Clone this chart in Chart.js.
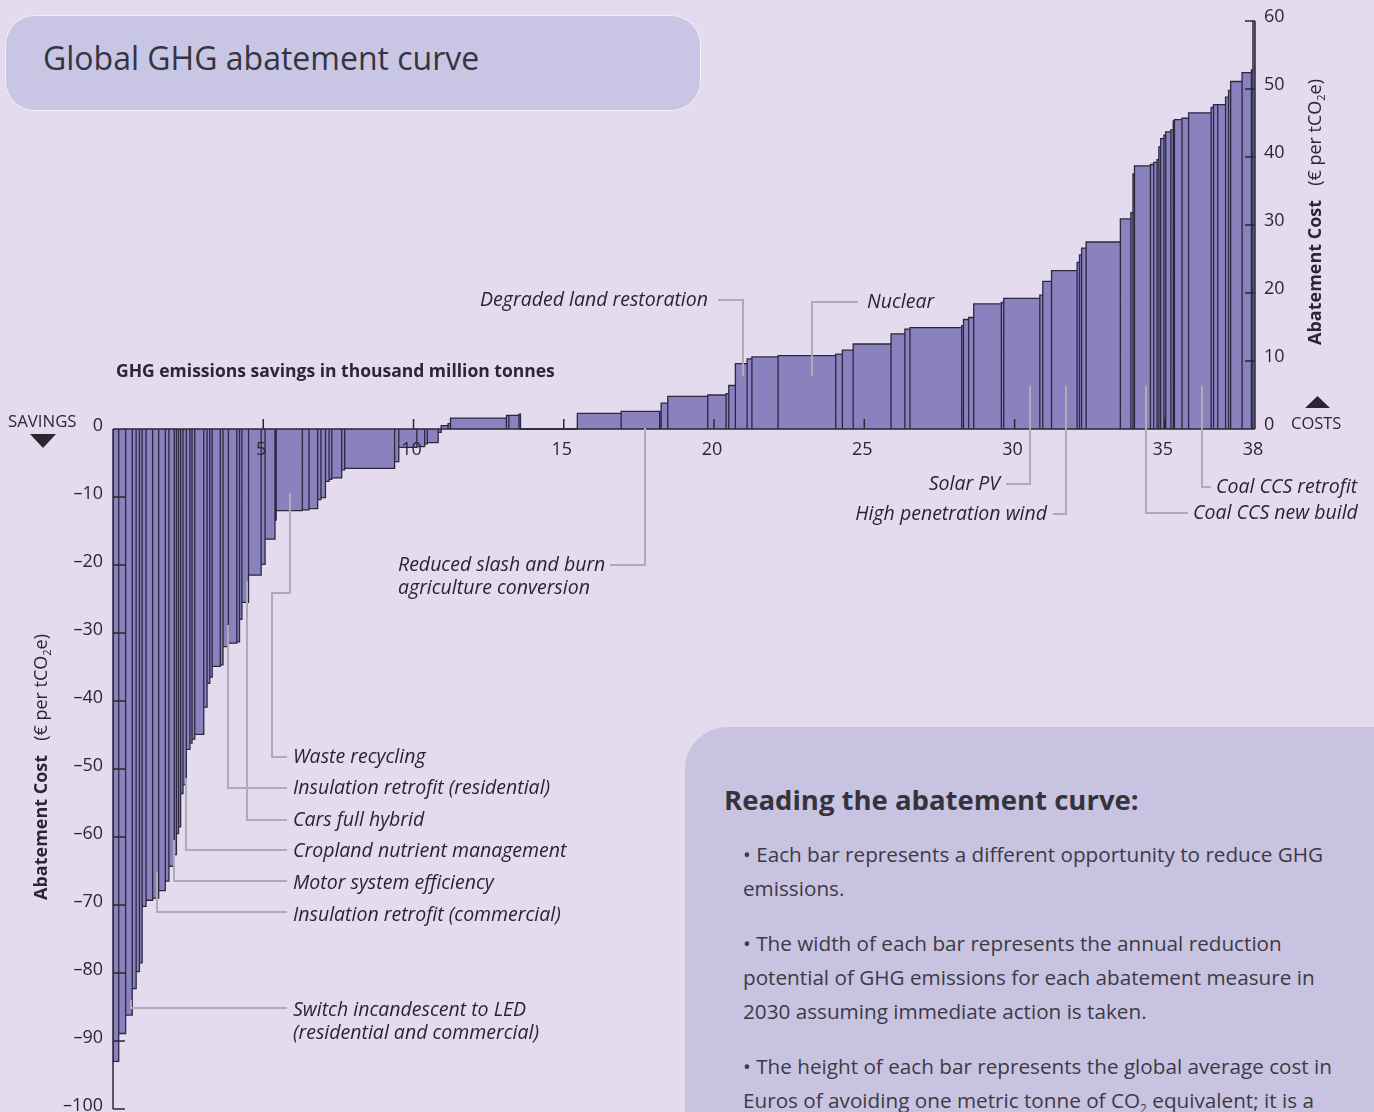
<!DOCTYPE html>
<html>
<head>
<meta charset="utf-8">
<script src="https://cdn.jsdelivr.net/npm/chart.js@4.4.1/dist/chart.umd.min.js"></script>
<style>
  body { margin: 0; background: #e4dcee; font-family: 'Open Sans', sans-serif; }
  #wrap { position: relative; width: 1374px; height: 1112px; overflow: hidden; }
  #chart { position: absolute; left: 0; top: 0; }
  .title-box { position: absolute; left: 5px; top: 15px; width: 696px; height: 96px; box-sizing: border-box;
    background: #c9c5e4; border: 1.5px solid #f2eff8; border-radius: 30px; }
  .title-box span { position: absolute; left: 37px; top: 20px; font-size: 32px; color: #363440; }
  .info-box { position: absolute; left: 685px; top: 727px; width: 740px; height: 440px;
    background: #c9c3e2; border-radius: 42px; color: #3c3a44; }
  .info-box h3 { position: absolute; left: 39px; top: 54px; margin: 0; font-size: 27.5px; line-height: 38px; font-weight: 700; color: #35333d; }
  .info-box .body { position: absolute; left: 58px; top: 110px; width: 660px; font-size: 20.7px; line-height: 34px; }
  .info-box p { margin: 0 0 21px 0; }
  .info-box sub { font-size: 12px; }
</style>
</head>
<body>
<div id="wrap">
  <div class="title-box"><span>Global GHG abatement curve</span></div>
  <div class="info-box">
    <h3>Reading the abatement curve:</h3>
    <div class="body">
      <p>• Each bar represents a different opportunity to reduce GHG<br>emissions.</p>
      <p>• The width of each bar represents the annual reduction<br>potential of GHG emissions for each abatement measure in<br>2030 assuming immediate action is taken.</p>
      <p>• The height of each bar represents the global average cost in<br>Euros of avoiding one metric tonne of CO<sub>2</sub> equivalent; it is a<br>weighted average across sub-opportunities and years.</p>
    </div>
  </div>
  <canvas id="chart" width="1374" height="1112"></canvas>
</div>
<script>
// abatement opportunities, left to right (width in Gt CO2e, cost in EUR per tCO2e)
const widths = [
  0.19, 0.23, 0.22, 0.13, 0.11, 0.09, 0.13, 0.22, 0.20, 0.22,
  0.12, 0.18, 0.07, 0.07, 0.07, 0.08, 0.11, 0.12, 0.07, 0.09,
  0.30, 0.11, 0.09, 0.08, 0.27, 0.09, 0.18, 0.28, 0.09, 0.08,
  0.22, 0.42, 0.13, 0.33, 0.04, 0.87, 0.22, 0.29, 0.11, 0.15,
  0.12, 0.09, 0.33, 0.10, 1.66, 0.14, 0.60, 0.26, 0.09, 0.36,
  0.10, 0.23, 0.08, 1.86, 0.08, 0.34, 0.05, 1.89, 1.46, 1.28,
  0.05, 0.22, 1.33, 0.61, 0.09, 0.22, 0.39, 0.16, 0.87, 1.92,
  0.22, 0.36, 1.26, 0.46, 0.17, 1.72, 0.06, 0.17, 0.17, 0.92,
  0.08, 1.20, 0.10, 0.29, 0.85, 0.08, 0.07, 0.15, 1.14, 0.35,
  0.07, 0.05, 0.53, 0.11, 0.11, 0.06, 0.06, 0.11, 0.06, 0.17,
  0.08, 0.04, 0.25, 0.22, 0.75, 0.08, 0.14, 0.26, 0.10, 0.07,
  0.38, 0.31, 0.05, 0.09
];
const costs = [
  -93, -88.9, -86.2, -82.3, -79.8, -78.5, -70.2, -69.3, -69.0, -67.9,
  -66.5, -64.3, -62.6, -59.5, -58.5, -53.6, -52.3, -47.1, -46.2, -45.6,
  -44.9, -40.9, -37.4, -36.5, -34.9, -34.7, -32.0, -31.5, -31.3, -28.0,
  -25.5, -21.5, -19.9, -16.2, -13.4, -12.0, -11.9, -11.7, -10.4, -10.1,
  -7.7, -7.4, -7.2, -6.0, -5.8, -4.8, -2.7, -2.6, -2.2, -2.0,
  -0.5, 0.5, 0.8, 1.6, 2.0, 2.0, 2.2, 0, 2.3, 2.6,
  2.5, 3.8, 4.8, 5.0, 5.2, 6.4, 9.6, 10.3, 10.6, 10.8,
  11.0, 11.6, 12.5, 14.0, 14.7, 14.9, 15.2, 16.1, 16.4, 18.4,
  18.6, 19.2, 19.7, 21.7, 23.3, 24.5, 25.6, 26.6, 27.5, 30.9,
  31.8, 37.5, 38.7, 38.9, 39.2, 39.6, 41.5, 42.7, 43.2, 43.7,
  44.0, 45.3, 45.5, 45.7, 46.5, 47.3, 47.7, 47.7, 48.8, 49.8,
  51.1, 52.4, 52.8, 60
];
const xTicks = [5, 10, 15, 20, 25, 30, 35, 38];
const savingTicks = [0, -10, -20, -30, -40, -50, -60, -70, -80, -90, -100];
const costTicks = [0, 10, 20, 30, 40, 50, 60];

// labelled opportunities (label position and leader line in page pixels)
const notes = [
  { lines: ['Degraded land restoration'], x: 708, y: 300, align: 'right', path: [[718, 300], [743, 300], [743, 376]] },
  { lines: ['Nuclear'], x: 867, y: 302, align: 'left', path: [[858, 302], [812, 302], [812, 376]] },
  { lines: ['Solar PV'], x: 1000, y: 484, align: 'right', path: [[1006, 484], [1030, 484], [1030, 386]] },
  { lines: ['High penetration wind'], x: 1047, y: 514, align: 'right', path: [[1053, 514], [1066, 514], [1066, 386]] },
  { lines: ['Coal CCS retrofit'], x: 1216, y: 487, align: 'left', path: [[1211, 487], [1202, 487], [1202, 386]] },
  { lines: ['Coal CCS new build'], x: 1193, y: 513, align: 'left', path: [[1188, 513], [1146, 513], [1146, 386]] },
  { lines: ['Reduced slash and burn', 'agriculture conversion'], x: 398, y: 565, align: 'left', path: [[610, 565], [645, 565], [645, 428]] },
  { lines: ['Waste recycling'], x: 293, y: 757, align: 'left', path: [[290, 493], [290, 593], [272, 593], [272, 757], [287, 757]] },
  { lines: ['Insulation retrofit (residential)'], x: 293, y: 788, align: 'left', path: [[228, 625], [228, 788], [287, 788]] },
  { lines: ['Cars full hybrid'], x: 293, y: 820, align: 'left', path: [[247, 581], [247, 820], [287, 820]] },
  { lines: ['Cropland nutrient management'], x: 293, y: 851, align: 'left', path: [[186, 778], [186, 850], [287, 850]] },
  { lines: ['Motor system efficiency'], x: 293, y: 883, align: 'left', path: [[174, 840], [174, 881], [287, 881]] },
  { lines: ['Insulation retrofit (commercial)'], x: 293, y: 915, align: 'left', path: [[157, 872], [157, 912], [287, 912]] },
  { lines: ['Switch incandescent to LED', '(residential and commercial)'], x: 293, y: 1010, align: 'left', path: [[131, 1000], [131, 1008], [287, 1008]] }
];

// outline of the stepped curve: each bar is a rectangle from 0 to its cost
const outline = [];
let start = 0;
widths.forEach((w, i) => {
  const end = start + w;
  outline.push({ x: start, y: 0 }, { x: start, y: costs[i] }, { x: end, y: costs[i] }, { x: end, y: 0 });
  start = end;
});

const ink = '#2a2733';
const font = "'Open Sans', sans-serif";

function drawAxisTitle(ctx, cx, bottom) {
  ctx.save();
  ctx.translate(cx, bottom);
  ctx.rotate(-Math.PI / 2);
  ctx.textBaseline = 'middle';
  ctx.textAlign = 'left';
  ctx.fillStyle = ink;
  let px = 0;
  ctx.font = `bold 18px ${font}`;
  ctx.fillText('Abatement Cost', px, 0);
  px += ctx.measureText('Abatement Cost').width + 14;
  ctx.font = `18px ${font}`;
  ctx.fillText('(€ per tCO', px, 0);
  px += ctx.measureText('(€ per tCO').width;
  ctx.font = `11px ${font}`;
  ctx.fillText('2', px, 6);
  px += ctx.measureText('2').width;
  ctx.font = `18px ${font}`;
  ctx.fillText('e)', px, 0);
  ctx.restore();
}

const macPlugin = {
  id: 'macAxes',
  afterDatasetsDraw(chart) {
    const { ctx, scales: { x, y } } = chart;
    const x0 = x.getPixelForValue(0), x38 = x.getPixelForValue(38), y0 = y.getPixelForValue(0);
    ctx.save();
    ctx.strokeStyle = ink;
    ctx.lineWidth = 1.5;
    ctx.beginPath();
    ctx.moveTo(x0, y0); ctx.lineTo(x38, y0);
    ctx.moveTo(x0, y0); ctx.lineTo(x0, y.getPixelForValue(-100));
    ctx.moveTo(x38, y0); ctx.lineTo(x38, y.getPixelForValue(60));
    savingTicks.forEach(v => { if (v < 0) { const py = y.getPixelForValue(v); ctx.moveTo(x0, py); ctx.lineTo(x0 + 12, py); } });
    costTicks.forEach(v => { if (v > 0) { const py = y.getPixelForValue(v); ctx.moveTo(x38 - 10, py); ctx.lineTo(x38, py); } });
    xTicks.forEach(v => { if (v < 38) { const px = x.getPixelForValue(v); ctx.moveTo(px, y0); ctx.lineTo(px, y0 - 10); } });
    ctx.stroke();

    ctx.fillStyle = ink;
    ctx.font = `18px ${font}`;
    ctx.textBaseline = 'middle';
    ctx.textAlign = 'right';
    savingTicks.forEach(v => ctx.fillText(v === 0 ? '0' : '–' + Math.abs(v), 103, y.getPixelForValue(v) - 3));
    ctx.textAlign = 'left';
    costTicks.forEach(v => ctx.fillText(String(v), x38 + 9, y.getPixelForValue(v) - 4));
    ctx.textAlign = 'center';
    xTicks.forEach(v => ctx.fillText(String(v), x.getPixelForValue(v) - 2, y0 + 21));

    // savings / costs markers
    ctx.textAlign = 'left';
    ctx.font = `16.8px ${font}`;
    ctx.fillText('SAVINGS', 8, y0 - 7);
    ctx.font = `16.5px ${font}`;
    ctx.fillText('COSTS', 1291, y0 - 5);
    ctx.beginPath();
    ctx.moveTo(30, y0 + 5); ctx.lineTo(56, y0 + 5); ctx.lineTo(43, y0 + 19); ctx.closePath();
    ctx.moveTo(1305, y0 - 21); ctx.lineTo(1330, y0 - 21); ctx.lineTo(1317.5, y0 - 33); ctx.closePath();
    ctx.fill();

    ctx.font = `bold 17.5px ${font}`;
    ctx.fillText('GHG emissions savings in thousand million tonnes', 116, 372);
    drawAxisTitle(ctx, 1316, 345);
    drawAxisTitle(ctx, 42, 900);

    // leader lines and labels
    ctx.strokeStyle = '#aeabb5';
    ctx.lineWidth = 2;
    notes.forEach(n => {
      ctx.beginPath();
      n.path.forEach(([px, py], i) => (i ? ctx.lineTo(px, py) : ctx.moveTo(px, py)));
      ctx.stroke();
    });
    ctx.fillStyle = '#28252f';
    ctx.font = `italic 19.5px ${font}`;
    notes.forEach(n => {
      ctx.textAlign = n.align;
      n.lines.forEach((t, i) => ctx.fillText(t, n.x, n.y + i * 23));
    });
    ctx.restore();
  }
};

new Chart(document.getElementById('chart'), {
  type: 'scatter',
  data: {
    datasets: [{
      data: outline,
      showLine: true,
      fill: 'origin',
      backgroundColor: '#8982bf',
      borderColor: '#2c2840',
      borderWidth: 1.3,
      pointRadius: 0,
      tension: 0
    }]
  },
  options: {
    responsive: false,
    animation: false,
    events: [],
    layout: { padding: { left: 113, right: 119, top: 21, bottom: 3 } },
    plugins: { legend: { display: false }, tooltip: { enabled: false } },
    scales: {
      x: { type: 'linear', min: 0, max: 38, display: false },
      y: { type: 'linear', min: -100, max: 60, display: false }
    }
  },
  plugins: [macPlugin]
});
</script>
</body>
</html>
